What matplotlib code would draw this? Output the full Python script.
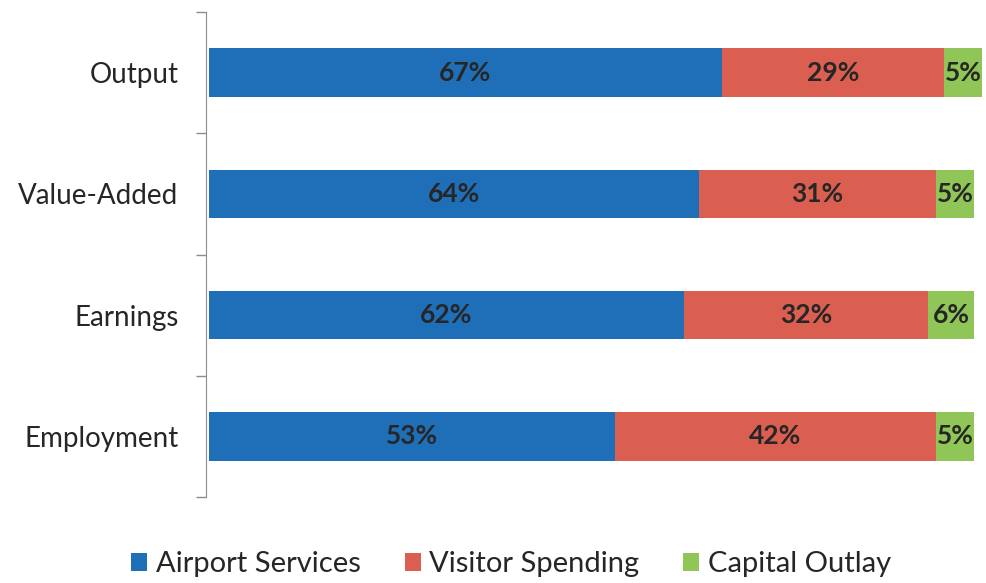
import matplotlib.pyplot as plt
import numpy as np

plt.rcParams['font.family'] = ['Lato', 'DejaVu Sans']

categories = ["Output", "Value-Added", "Earnings", "Employment"]
airport_services = [67, 64, 62, 53]
visitor_spending = [29, 31, 32, 42]
capital_outlay = [5, 5, 6, 5]
series_names = ["Airport Services", "Visitor Spending", "Capital Outlay"]
colors = ["#1f6fb8", "#db5f50", "#8fc657"]

fig = plt.figure(figsize=(9.87, 5.83), dpi=100)
ax = fig.add_axes([209 / 987, 1 - 497 / 583, (982 - 209) / 987, (497 - 12) / 583])

y = np.arange(len(categories))
left = np.zeros(len(categories))
for vals, name, col in zip([airport_services, visitor_spending, capital_outlay], series_names, colors):
    vals = np.array(vals, dtype=float)
    ax.barh(y, vals, left=left, height=0.40, color=col, label=name)
    for yi, l, v in zip(y, left, vals):
        ax.text(l + v / 2, yi, f"{int(v)}%", ha="center", va="center",
                fontsize=19, fontweight="bold", color="#262626")
    left += vals

ax.set_xlim(0, 101)
ax.set_ylim(len(categories) - 0.5, -0.5)
ax.set_yticks(y)
ax.set_yticklabels(categories)
ax.set_yticks(np.arange(-0.5, len(categories)), minor=True)
ax.tick_params(axis="y", which="major", length=0, pad=20, labelsize=20, labelcolor="#262626")
ax.tick_params(axis="y", which="minor", length=7, color="#8c8c8c", width=1)
ax.set_xticks([])
for s in ["top", "right", "bottom"]:
    ax.spines[s].set_visible(False)
ax.spines["left"].set_color("#8c8c8c")
ax.spines["left"].set_position(("outward", 2))

fig.legend(loc="lower center", ncol=3, frameon=False, fontsize=21,
           handlelength=0.55, handleheight=0.55, handletextpad=0.3,
           columnspacing=1.5, bbox_to_anchor=(0.518, -0.035), labelcolor="#262626")

fig.savefig("out.png", dpi=100)
